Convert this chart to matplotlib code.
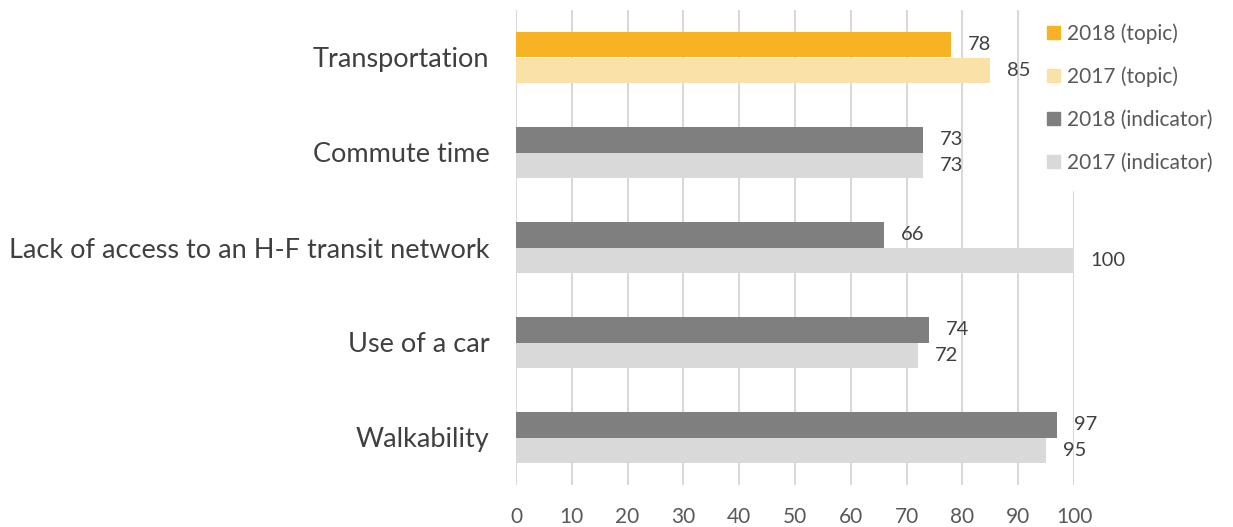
import numpy as np
import matplotlib.pyplot as plt
from matplotlib.patches import Patch

plt.rcParams['font.family'] = ['Lato', 'DejaVu Sans']

categories = ['Transportation', 'Commute time', 'Lack of access to an H-F transit network',
              'Use of a car', 'Walkability']
values_2018 = [78, 73, 66, 74, 97]
values_2017 = [85, 73, 100, 72, 95]
is_topic = [True, False, False, False, False]

col_2018_topic = '#F7B324'
col_2017_topic = '#FAE1A8'
col_2018_ind = '#7F7F7F'
col_2017_ind = '#D9D9D9'

fig = plt.figure(figsize=(12.33, 5.27), dpi=100)
ax = fig.add_axes([516 / 1233, 1 - 485 / 527, (1074 - 516) / 1233, 475 / 527])

y = np.arange(len(categories))
h = 0.265
c18 = [col_2018_topic if t else col_2018_ind for t in is_topic]
c17 = [col_2017_topic if t else col_2017_ind for t in is_topic]

ax.barh(y - h / 2, values_2018, height=h, color=c18, zorder=3)
ax.barh(y + h / 2, values_2017, height=h, color=c17, zorder=3)

for yi, v in zip(y, values_2018):
    ax.annotate(str(v), (v, yi - h / 2), xytext=(12, 0), textcoords='offset points',
                va='center', ha='left', fontsize=14.5, color='#404040')
for yi, v in zip(y, values_2017):
    ax.annotate(str(v), (v, yi + h / 2), xytext=(12, 0), textcoords='offset points',
                va='center', ha='left', fontsize=14.5, color='#404040')

ax.set_xlim(0, 100)
ax.set_ylim(len(categories) - 0.5, -0.5)
ax.set_xticks(range(0, 101, 10))
ax.set_yticks(y)
ax.set_yticklabels(categories, fontsize=19.5, color='#404040')
ax.tick_params(axis='x', labelsize=15, labelcolor='#595959', length=0, pad=16)
ax.tick_params(axis='y', length=0, pad=19)
ax.grid(axis='x', color='#D9D9D9', linewidth=1.5, zorder=0)
for s in ax.spines.values():
    s.set_visible(False)

handles = [Patch(color=col_2018_topic), Patch(color=col_2017_topic),
           Patch(color=col_2018_ind), Patch(color=col_2017_ind)]
labels = ['2018 (topic)', '2017 (topic)', '2018 (indicator)', '2017 (indicator)']
leg = fig.legend(handles, labels, loc='upper left', bbox_to_anchor=(1020 / 1233, 1 + 4 / 527),
                 frameon=True, facecolor='white', edgecolor='white', framealpha=1,
                 fontsize=15, handlelength=0.6, handleheight=0.6, handletextpad=0.35,
                 labelspacing=1.1, borderpad=0.8, labelcolor='#595959')
leg.set_zorder(10)

fig.savefig('out.png', dpi=100, facecolor='white')
